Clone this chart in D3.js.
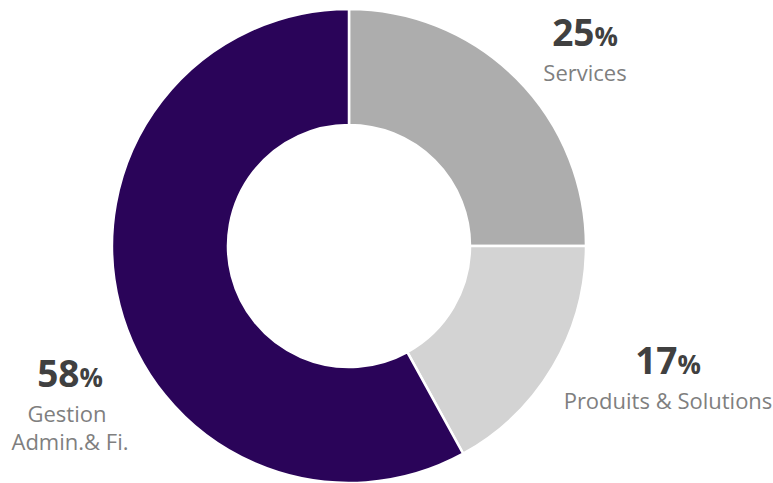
<!DOCTYPE html>
<html>
<head>
<meta charset="utf-8">
<script src="https://cdn.jsdelivr.net/npm/d3@7"></script>
<style>
html,body{margin:0;padding:0;background:#fff;}
svg{display:block;}
</style>
</head>
<body>
<svg id="chart" width="773" height="483"></svg>
<script>
const categories = ["Services", "Produits & Solutions", "Gestion Admin.& Fi."];
const values = [25, 17, 58];
const pctLabels = ["25", "17", "58"];
const nameLines = [["Services"], ["Produits & Solutions"], ["Gestion", "Admin.& Fi."]];
const colors = ["#adadad", "#d3d3d3", "#2a0459"];

const svg = d3.select("#chart");
const cx = 349, cy = 246, R = 237, r = 121;
const g = svg.append("g").attr("transform", `translate(${cx},${cy})`);

const pie = d3.pie().sort(null).value(d => d);
const arc = d3.arc().innerRadius(r).outerRadius(R);
const arcs = pie(values);

g.selectAll("path").data(arcs).enter().append("path")
  .attr("d", arc)
  .attr("fill", (d, i) => colors[i])
  .attr("stroke", "#fff")
  .attr("stroke-width", 2.5);

// label positions (anchored outside the donut)
const labelPos = [[585, 46], [668, 374], [70, 387]];
const font = "'Open Sans', sans-serif";
labelPos.forEach((p, i) => {
  const t = svg.append("text")
    .attr("x", p[0]).attr("y", p[1])
    .attr("text-anchor", "middle")
    .attr("font-family", font)
    .attr("font-weight", "bold")
    .attr("fill", "#404040")
    .attr("font-size", 37);
  t.append("tspan").text(pctLabels[i]);
  t.append("tspan").attr("font-size", 26).text("%");
  nameLines[i].forEach((ln, j) => {
    svg.append("text")
      .attr("x", p[0] + (i === 2 && j === 0 ? -3 : 0))
      .attr("y", p[1] + 35 + j * 28)
      .attr("text-anchor", "middle")
      .attr("font-family", font)
      .attr("fill", "#7f7f7f")
      .attr("font-size", 22)
      .text(ln);
  });
});
</script>
</body>
</html>
